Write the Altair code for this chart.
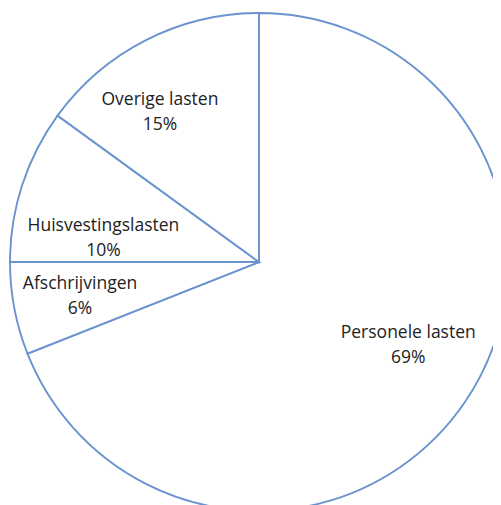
import altair as alt
import pandas as pd

categories = ["Personele lasten", "Afschrijvingen", "Huisvestingslasten", "Overige lasten"]
values = [69, 6, 10, 15]
labels = ["69%", "6%", "10%", "15%"]

df = pd.DataFrame({
    "cat": categories,
    "val": values,
    "pct": labels,
    "order": list(range(len(categories))),
})
df["label"] = [[c, p] for c, p in zip(categories, labels)]

CX, CY, R = 251, 254, 249
theta_scale = alt.Scale(domain=[0, 100])

arcs = alt.Chart(df).mark_arc(
    x=CX,
    y=CY,
    outerRadius=R,
    fill="white",
    stroke="#6a93cf",
    strokeWidth=1.9,
).encode(
    theta=alt.Theta("val:Q", stack=True, scale=theta_scale),
    order=alt.Order("order:Q"),
)

# cumulative position of each slice, labels sit at the slice's middle angle
text_base = alt.Chart(df).transform_window(
    cum="sum(val)", sort=[alt.SortField("order")], frame=[None, 0]
).transform_calculate(
    mid="datum.cum - datum.val / 2"
)

# label nudges (best-fit placement as in the original)
nudges = {
    "Personele lasten": (7, -26),
    "Afschrijvingen": (-10, -10),
    "Huisvestingslasten": (8, 17),
    "Overige lasten": (-21, -9),
}

text_layers = []
for cat, (ddx, ddy) in nudges.items():
    text_layers.append(
        text_base.transform_filter(alt.datum.cat == cat).mark_text(
            x=CX,
            y=CY,
            radius=172,
            dx=ddx,
            dy=ddy,
            font="Open Sans",
            fontSize=17.5,
            color="#222222",
            lineHeight=25,
            align="center",
            baseline="middle",
        ).encode(
            theta=alt.Theta("mid:Q", stack=False, scale=theta_scale),
            text="label",
        )
    )

chart = alt.layer(arcs, *text_layers).properties(
    width=485,
    height=497,
    padding=0,
    autosize=alt.AutoSizeParams(type="none"),
).configure_view(stroke=None)

chart.save("out.html", embed_options={"renderer": "svg", "actions": False})
